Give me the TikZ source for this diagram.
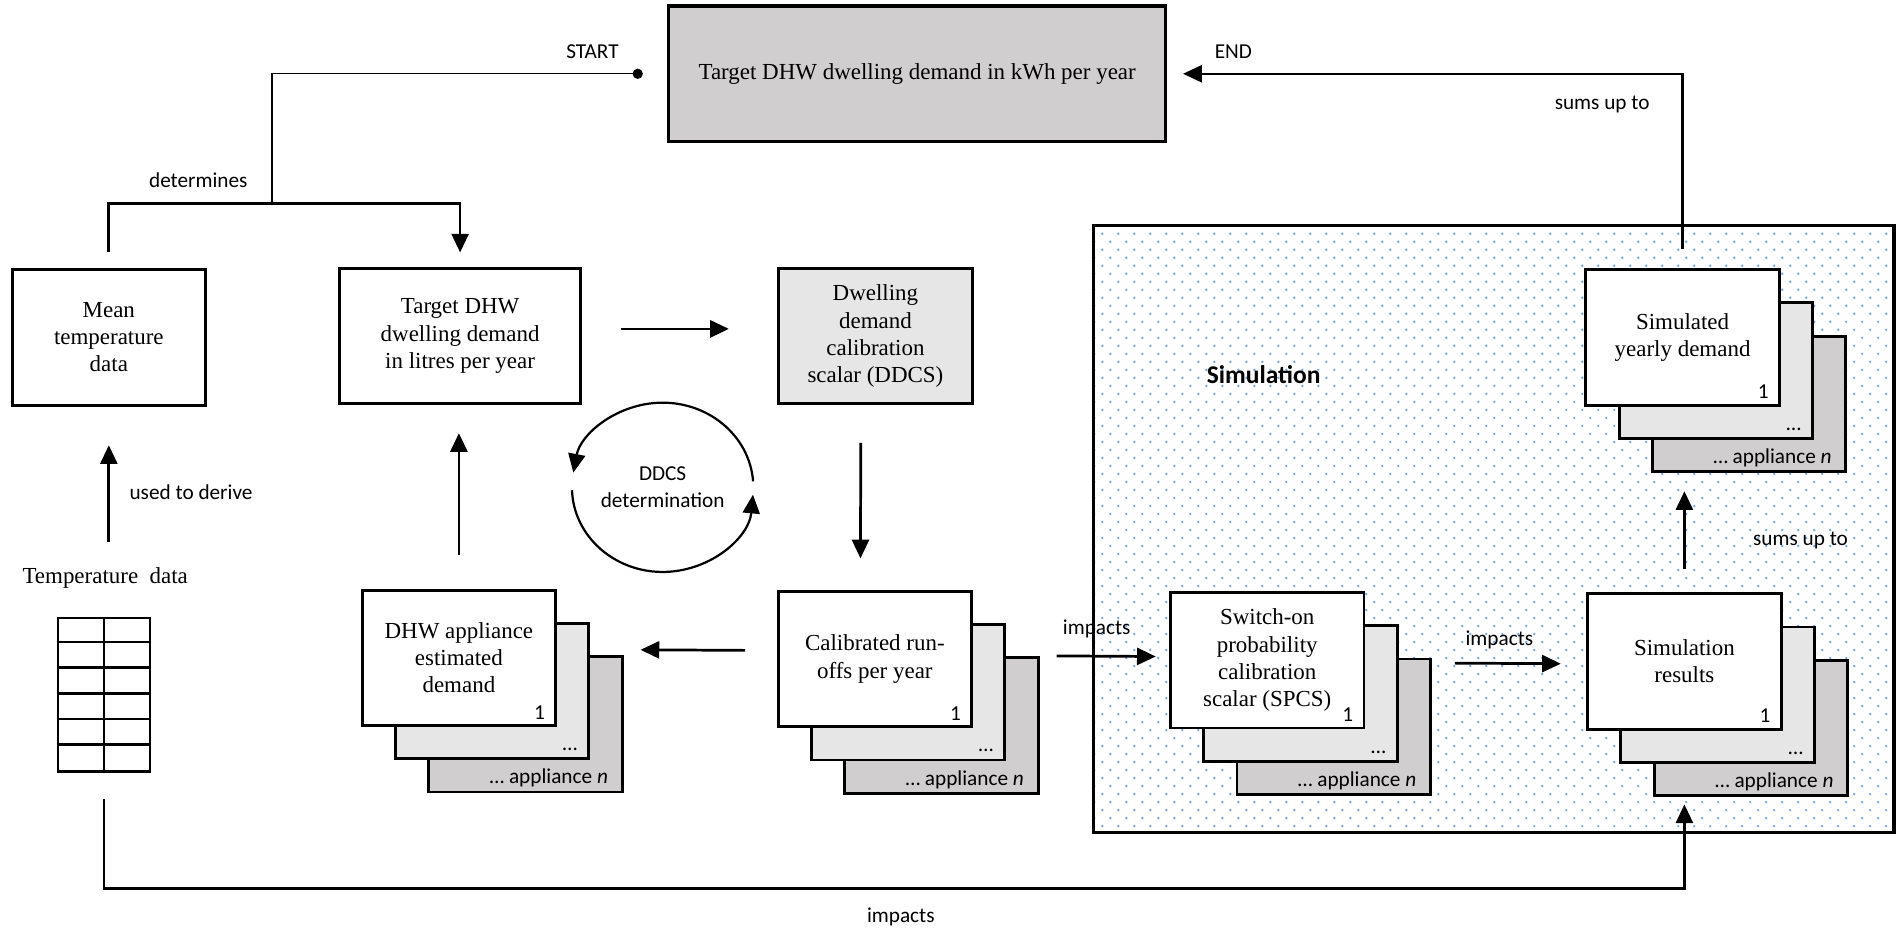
\documentclass[tikz,border=0pt]{standalone}
\usepackage{fontspec}
\setmainfont{Liberation Serif}
\newfontfamily\labelfont{Carlito}
\usetikzlibrary{arrows.meta}

\definecolor{boxgrey}{HTML}{D0CECE}
\definecolor{lightgrey}{HTML}{E7E6E6}
\definecolor{dotblue}{RGB}{115,168,225}

% three stacked appliance boxes: name, x, y, text
\newcommand{\appstack}[4]{%
  \node[box, fill=boxgrey] (#1c) at (#2+55,#3+55)
    [label={[numlbl, xshift=-9pt, yshift=5.6pt]south east:… appliance \textit{n}}] {};
  \node[box, fill=lightgrey] (#1b) at (#2+27.5,#3+27.5)
    [label={[numlbl, xshift=-7.4pt, yshift=5.6pt]south east:…}] {};
  \node[box, fill=white] (#1) at (#2,#3)
    [label={[numlbl, xshift=-7pt, yshift=4.6pt]south east:1}] {#4};
}

\begin{document}
\begin{tikzpicture}[x=0.025cm, y=-0.025cm,
    box/.style={draw, line width=1.7pt, minimum width=4cm, minimum height=2.8cm, align=center, inner sep=2pt, font=\fontsize{13.5}{16}\selectfont},
    lbl/.style={font=\labelfont\fontsize{12.5}{15.6}\selectfont, inner sep=1pt, align=center},
    numlbl/.style={lbl, anchor=base east, inner sep=0pt},
    arr/.style={line width=1.6pt, -{Triangle[length=11pt, width=10pt]}},
    thinline/.style={line width=0.8pt}]

    \useasboundingbox (0,0) rectangle (1568,772);

    % Simulation area
    \node (sim) at (1235.5,437.5) [minimum width=16.525cm, minimum height=12.525cm, inner sep=0pt] {};
    \begin{scope}
        \clip (sim.north west) rectangle (sim.south east);
        \foreach \r in {1,...,75} {
            \foreach \c in {0,...,50} {
                \fill[dotblue] ({905+mod(\r,2)*6.62+\c*13.23}, {186.7+\r*6.62}) circle (0.8pt);
            }
        }
    \end{scope}
    \draw[line width=1.9pt] (sim.north west) rectangle (sim.south east);
    \node[lbl, font=\labelfont\bfseries\fontsize{15}{18}\selectfont] (simlbl) at (1045,310) {Simulation};

    % Single boxes
    \node[box, fill=boxgrey, minimum width=10.275cm, line width=1.9pt] (top) at (758.5,61) {Target DHW dwelling demand in kWh per year};
    \node[box] (mean) at (90,279) {Mean\\temperature\\data};
    \node[box, minimum width=4.975cm] (tdhw) at (380.5,278) {Target DHW\\dwelling demand\\in litres per year};
    \node[box, fill=lightgrey] (ddcs) at (724,278) {Dwelling\\demand\\calibration\\scalar (DDCS)};

    % Temperature data table
    \node[font=\fontsize{13.5}{16}\selectfont] (tdata) at (87,478) {Temperature\enspace data};
    \node[draw, line width=1.6pt, minimum width=1.9cm, minimum height=3.175cm, inner sep=0pt] (tab) at (86,574.5) {};
    \foreach \r in {1,...,5}
        \draw[line width=1.6pt] (tab.north west) ++(0,\r*21.17) -- ++(76,0);
    \draw[line width=1.6pt] (tab.north) -- (tab.south);

    % Stacked boxes
    \appstack{dhw}{379.5}{544}{DHW appliance\\estimated\\demand}
    \appstack{cal}{723.5}{545}{Calibrated run-\\offs per year}
    \appstack{spcs}{1048}{546}{Switch-on\\probability\\calibration\\scalar (SPCS)}
    \appstack{simres}{1393}{547}{Simulation\\results}
    \appstack{simyear}{1391.5}{279}{Simulated\\yearly demand}

    % DDCS loop
    \node[lbl] (loop) at (548,403) {DDCS\\determination};
    \draw[arr, line width=1.3pt] ([shift={(-4:75 and 70)}]loop.center) arc[start angle=-4, end angle=-170, x radius=75, y radius=70];
    \draw[arr, line width=1.3pt] ([shift={(-182:75 and 70)}]loop.center) arc[start angle=-182, end angle=-355, x radius=75, y radius=70];

    % Connectors
    \coordinate (split) at (225,168);
    \coordinate (low) at (745,735);

    \draw[thinline, {Circle[length=6pt]}-, shorten <=0.5cm] (top.west) -| (split);
    \node[lbl] (startlbl) at (490,43) {START};

    \draw[arr] ([yshift=0.325cm]mean.north) |- (split) -| ([yshift=0.3cm]tdhw.north);
    \node[lbl] (detlbl) at (164,149) {determines};

    \draw[arr, shorten <=0.4cm, shorten >=0.8cm] (mean.south |- tdata.north) -- (mean.south);
    \node[lbl] (derlbl) at (158,407) {used to derive};

    \draw[arr, shorten <=0.8cm, shorten >=1cm] ([yshift=0.15cm]tdhw.east) -- ([yshift=0.15cm]ddcs.west);
    \draw[arr, shorten <=0.775cm, shorten >=0.65cm] ([xshift=-0.3cm]ddcs.south) -- ([xshift=-0.3cm]cal.north);
    \draw[arr, shorten <=0.65cm, shorten >=1.725cm] ([yshift=0.175cm]cal.west) -- ([yshift=0.175cm]dhw.east);
    \draw[arr, shorten <=0.7cm, shorten >=0.575cm] (dhw.north) -- (dhw.north |- tdhw.south);

    \draw[arr, shorten <=1.725cm, shorten >=0.275cm] ([yshift=0.075cm]cal.east) -- ([yshift=0.075cm]spcs.west);
    \node[lbl] (implbl1) at (907,520) {impacts};

    \draw[arr, shorten <=1.85cm, shorten >=0.525cm] ([yshift=-0.05cm]spcs.east) -- ([yshift=-0.05cm]simres.west);
    \node[lbl] (implbl2) at (1240,529) {impacts};

    \draw[arr, shorten <=0.475cm, shorten >=1.75cm] (simres.north) -- (simres.north |- simyear.south);
    \node[lbl] (sumlbl1) at (1489,447) {sums up to};

    \draw[arr, line width=1.3pt, shorten <=0.4cm, shorten >=0.325cm] (simyear.north) |- (top.east);
    \node[lbl] (endlbl) at (1020,43) {END};
    \node[lbl] (sumlbl2) at (1325,86) {sums up to};

    \draw[arr, shorten <=0.55cm, shorten >=0.15cm] (tab.south) |- (low) -| (simresc.south -| simres.south);
    \node[lbl] (implbl3) at (745,758) {impacts};

\end{tikzpicture}
\end{document}
